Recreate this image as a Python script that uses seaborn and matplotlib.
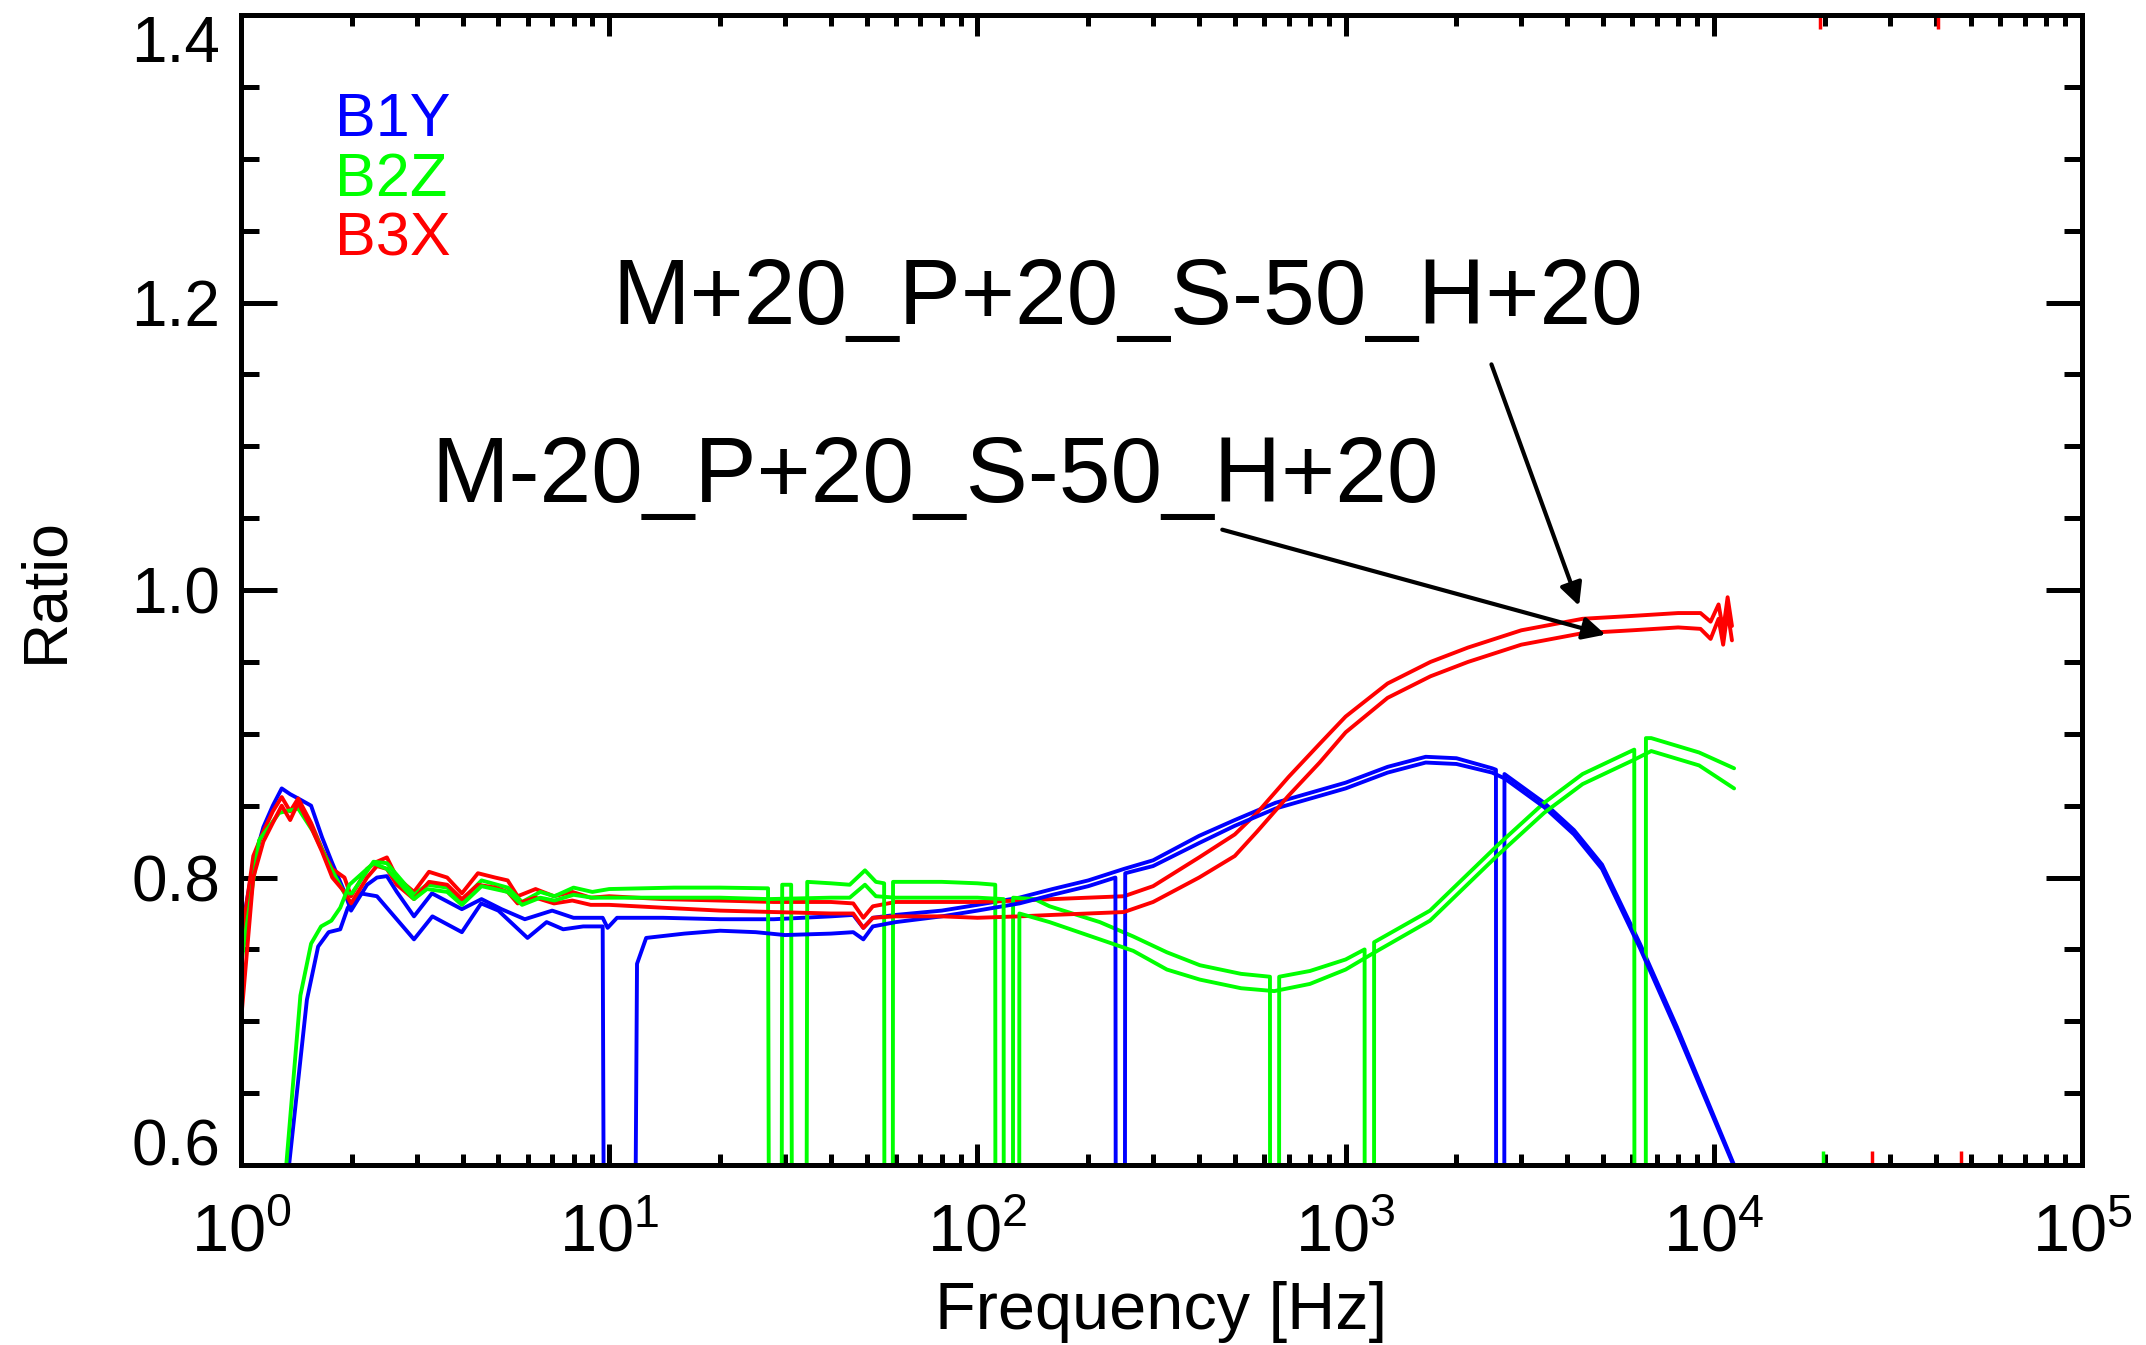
import pandas as pd
import matplotlib
matplotlib.use('Agg')
import matplotlib.pyplot as plt
import seaborn as sns
from matplotlib.ticker import MultipleLocator, LogLocator, NullFormatter

# Ratio curves (frequency in Hz, ratio).
# "a" = M+20_P+20_S-50_H+20, "b" = M-20_P+20_S-50_H+20; 0.3 marks a dropout below the axis
b1y_a_f = [1.0, 1.08, 1.15, 1.22, 1.29, 1.36, 1.43, 1.55, 1.66, 1.77, 1.91, 1.99, 2.2, 2.34, 2.49,
           2.65, 2.95, 3.3, 3.98, 4.5, 5.1, 5.9, 7.0, 8.0, 9.6, 9.9, 10.5, 14, 20, 28, 40, 46, 49,
           52, 60, 80, 100, 130, 160, 200, 250, 300, 400, 500, 645, 1000, 1300, 1650, 2000, 2500,
           2560, 2565, 2695, 2700, 3460, 4170, 4970, 6300, 7940, 11350, 11600]
b1y_a_v = [0.76, 0.81, 0.835, 0.85, 0.862, 0.858, 0.855, 0.85, 0.828, 0.81, 0.79, 0.777, 0.795, 0.80,
           0.801, 0.79, 0.773, 0.789, 0.778, 0.785, 0.778, 0.771, 0.777, 0.772, 0.772, 0.765, 0.772,
           0.772, 0.771, 0.771, 0.773, 0.774, 0.765, 0.772, 0.774, 0.777, 0.781, 0.786, 0.792, 0.798,
           0.806, 0.812, 0.829, 0.84, 0.852, 0.866, 0.877, 0.884, 0.883, 0.876, 0.875, 0.3, 0.3,
           0.872, 0.852, 0.833, 0.809, 0.754, 0.696, 0.6, 0.59]

b1y_b_f = [1.25, 1.51, 1.62, 1.73, 1.86, 1.95, 2.11, 2.34, 2.95, 3.31, 3.98, 4.49, 5.0, 6.0, 6.76,
           7.5, 8.5, 9.6, 9.75, 11.6, 11.9, 12.6, 16, 20, 25, 30, 40, 46, 49, 52, 60, 80, 100, 130,
           160, 200, 237, 238, 251, 252, 300, 400, 500, 645, 1000, 1300, 1650, 2000, 2500, 2700,
           3460, 4170, 4970, 6300, 7940, 11300, 11600]
b1y_b_v = [0.52, 0.715, 0.752, 0.762, 0.764, 0.779, 0.789, 0.787, 0.757, 0.773, 0.762, 0.782, 0.777,
           0.758, 0.769, 0.764, 0.766, 0.766, 0.3, 0.3, 0.74, 0.758, 0.761, 0.763, 0.762, 0.76, 0.761,
           0.762, 0.757, 0.766, 0.769, 0.773, 0.777, 0.782, 0.788, 0.794, 0.80, 0.3, 0.3, 0.803,
           0.808, 0.824, 0.836, 0.848, 0.862, 0.873, 0.880, 0.879, 0.873, 0.869, 0.849, 0.830,
           0.806, 0.751, 0.693, 0.6, 0.59]

b2z_a_f = [1.0, 1.12, 1.27, 1.43, 1.57, 1.75, 1.91, 2.0, 2.29, 2.49, 2.95, 3.2, 3.63, 3.98, 4.5,
           5.3, 5.8, 6.5, 7.1, 8, 9, 10, 15, 20, 27, 27.3, 29.3, 29.5, 31.2, 31.5, 34.2, 34.5, 40,
           45, 49.5, 53, 55.8, 56, 58.8, 59, 80, 100, 111.8, 112, 124.8, 125, 143, 157, 215, 265,
           327, 402, 520, 623, 624, 659, 660, 800, 1000, 1126, 1127, 1194, 1195, 1695, 2600, 3460,
           4400, 6080, 6090, 6530, 6540, 6760, 9120, 11350]
b2z_a_v = [0.739, 0.826, 0.845, 0.848, 0.832, 0.807, 0.789, 0.789, 0.811, 0.81, 0.788, 0.795, 0.793,
           0.784, 0.798, 0.793, 0.783, 0.79, 0.787, 0.793, 0.79, 0.792, 0.793, 0.793, 0.7925, 0.3,
           0.3, 0.795, 0.795, 0.3, 0.3, 0.797, 0.796, 0.795, 0.805, 0.797, 0.796, 0.3, 0.3, 0.797,
           0.797, 0.796, 0.795, 0.3, 0.3, 0.786, 0.785, 0.78, 0.769, 0.759, 0.748, 0.739, 0.733,
           0.731, 0.3, 0.3, 0.731, 0.735, 0.743, 0.75, 0.3, 0.3, 0.755, 0.777, 0.823, 0.852, 0.872,
           0.889, 0.3, 0.3, 0.897, 0.897, 0.887, 0.876]

b2z_b_f = [1.25, 1.45, 1.55, 1.65, 1.76, 1.86, 1.97, 2.29, 2.49, 2.95, 3.2, 3.63, 3.98, 4.5, 5.3,
           5.8, 6.5, 7.1, 8, 9, 10, 15, 20, 27, 40, 45, 49.5, 53, 60, 80, 100, 117.8, 118, 129.8,
           130, 157, 215, 265, 327, 402, 520, 640, 800, 1000, 1200, 1695, 2600, 3460, 4400, 6080,
           6760, 9120, 11350]
b2z_b_v = [0.52, 0.718, 0.754, 0.766, 0.77, 0.779, 0.795, 0.81, 0.806, 0.785, 0.792, 0.79, 0.781,
           0.794, 0.79, 0.781, 0.786, 0.784, 0.788, 0.786, 0.786, 0.786, 0.786, 0.785, 0.786, 0.786,
           0.795, 0.787, 0.786, 0.786, 0.786, 0.785, 0.3, 0.3, 0.775, 0.769, 0.757, 0.749, 0.736,
           0.729, 0.723, 0.721, 0.726, 0.736, 0.748, 0.770, 0.816, 0.845, 0.865, 0.882, 0.888,
           0.878, 0.862]

b3x_a_f = [1.0, 1.08, 1.15, 1.22, 1.29, 1.36, 1.43, 1.55, 1.66, 1.77, 1.91, 1.99, 2.2, 2.34, 2.49,
           2.65, 2.95, 3.24, 3.63, 3.98, 4.4, 4.9, 5.3, 5.64, 6.31, 7.08, 7.94, 8.91, 10, 14, 20, 28,
           40, 46, 49, 52, 60, 80, 100, 130, 160, 200, 250, 300, 400, 500, 575, 700, 850, 1000,
           1300, 1700, 2150, 3000, 4400, 6000, 8000, 9200, 9800, 10300, 10600, 10900, 11200]
b3x_a_v = [0.754, 0.815, 0.832, 0.846, 0.856, 0.846, 0.855, 0.838, 0.82, 0.806, 0.80, 0.787, 0.806,
           0.811, 0.814, 0.80, 0.79, 0.804, 0.80, 0.789, 0.803, 0.80, 0.798, 0.787, 0.792, 0.787,
           0.79, 0.786, 0.787, 0.785, 0.784, 0.783, 0.783, 0.782, 0.772, 0.78, 0.783, 0.783, 0.783,
           0.784, 0.785, 0.786, 0.787, 0.794, 0.814, 0.83, 0.845, 0.87, 0.893, 0.912, 0.935, 0.95,
           0.96, 0.972, 0.98, 0.982, 0.984, 0.984, 0.978, 0.99, 0.972, 0.995, 0.975]

b3x_b_f = b3x_a_f
b3x_b_v = [0.70, 0.80, 0.825, 0.838, 0.85, 0.84, 0.852, 0.835, 0.818, 0.80, 0.79, 0.782, 0.80, 0.808,
           0.806, 0.795, 0.785, 0.797, 0.795, 0.785, 0.795, 0.793, 0.79, 0.782, 0.786, 0.782, 0.784,
           0.781, 0.781, 0.779, 0.777, 0.776, 0.775, 0.775, 0.765, 0.772, 0.773, 0.773, 0.772, 0.773,
           0.774, 0.775, 0.776, 0.783, 0.80, 0.815, 0.832, 0.857, 0.88, 0.901, 0.925, 0.94, 0.95,
           0.962, 0.97, 0.972, 0.974, 0.973, 0.966, 0.98, 0.962, 0.985, 0.965]

# short stray marks at the frame beyond 10^4
stray_f = [19770, 26900, 46900, 19400, 40700]
stray_lo = [0.60, 0.60, 0.60, 1.39, 1.39]
stray_hi = [0.61, 0.61, 0.61, 1.40, 1.40]
stray_c = ['#00ff00', '#ff0000', '#ff0000', '#ff0000', '#ff0000']

y_ticks = [0.6, 0.8, 1.0, 1.2, 1.4]

curves = {
    'B1Y a': (b1y_a_f, b1y_a_v), 'B3X a': (b3x_a_f, b3x_a_v), 'B2Z a': (b2z_a_f, b2z_a_v),
    'B1Y b': (b1y_b_f, b1y_b_v), 'B3X b': (b3x_b_f, b3x_b_v), 'B2Z b': (b2z_b_f, b2z_b_v),
}
colors = {'B1Y': '#0000ff', 'B2Z': '#00ff00', 'B3X': '#ff0000'}

frames = []
for name, (f, v) in curves.items():
    frames.append(pd.DataFrame({'freq': f, 'ratio': v, 'curve': name}))
df = pd.concat(frames, ignore_index=True)
palette = {name: colors[name.split()[0]] for name in curves}

sns.set_theme(style='ticks')
plt.rcParams['font.family'] = ['Liberation Sans', 'DejaVu Sans']
plt.rcParams['mathtext.fontset'] = 'custom'
plt.rcParams['mathtext.rm'] = 'Liberation Sans'
plt.rcParams['mathtext.default'] = 'regular'
for key in ['text.color', 'axes.labelcolor', 'xtick.color', 'ytick.color', 'axes.edgecolor']:
    plt.rcParams[key] = 'black'

fig = plt.figure(figsize=(21.46, 13.45), dpi=100)
ax = fig.add_axes([0.1123, 0.1338, 0.8579, 0.8550])

sns.lineplot(data=df, x='freq', y='ratio', hue='curve', hue_order=list(curves), palette=palette,
             estimator=None, sort=False, legend=False, lw=2.8, ax=ax)
ax.vlines(stray_f, stray_lo, stray_hi, colors=stray_c, lw=2.5)

ax.set_xscale('log')
ax.set_xlim(1, 1e5)
ax.set_ylim(0.6, 1.4)
ax.set_yticks(y_ticks)
ax.yaxis.set_minor_locator(MultipleLocator(0.05))
ax.xaxis.set_minor_locator(LogLocator(base=10, subs=range(2, 10)))
ax.xaxis.set_minor_formatter(NullFormatter())

for s in ax.spines.values():
    s.set_linewidth(3.6)
ax.tick_params(which='both', direction='in', top=True, right=True, width=3.6)
ax.tick_params(axis='x', which='major', length=15, pad=28, labelsize=48)
ax.tick_params(axis='x', which='minor', length=8)
ax.tick_params(axis='y', which='major', length=26, pad=15, labelsize=46)
ax.tick_params(axis='y', which='minor', length=13)

# end labels sit inside the frame, as in the original
ylabels = ax.get_yticklabels()
ylabels[0].set_va('baseline')
ylabels[-1].set_va('top')

ax.set_xlabel('Frequency [Hz]', fontsize=48)
ax.set_ylabel('Ratio', fontsize=45)
ax.xaxis.label.set_va('baseline')
ax.xaxis.set_label_coords(0.5, -0.143)
ax.yaxis.set_label_coords(-0.090, 0.5)

# channel legend as coloured text
ax.text(0.051, 0.8947, 'B1Y', color='#0000ff', fontsize=44, transform=ax.transAxes, va='baseline')
ax.text(0.051, 0.8425, 'B2Z', color='#00ff00', fontsize=44, transform=ax.transAxes, va='baseline')
ax.text(0.051, 0.7910, 'B3X', color='#ff0000', fontsize=44, transform=ax.transAxes, va='baseline')

# configuration labels with arrows
ax.text(10.18, 1.185, 'M+20_P+20_S-50_H+20', fontsize=67, ha='left', va='baseline')
ax.text(3.28, 1.061, 'M-20_P+20_S-50_H+20', fontsize=67, ha='left', va='baseline')
arrow = dict(arrowstyle='-|>', color='black', lw=3, mutation_scale=34, shrinkA=0, shrinkB=0)
ax.annotate('', xy=(10 ** 3.634, 0.989), xytext=(10 ** 3.396, 1.157), arrowprops=arrow)
ax.annotate('', xy=(10 ** 3.706, 0.969), xytext=(10 ** 2.665, 1.042), arrowprops=arrow)

fig.savefig('out.png', dpi=100)
